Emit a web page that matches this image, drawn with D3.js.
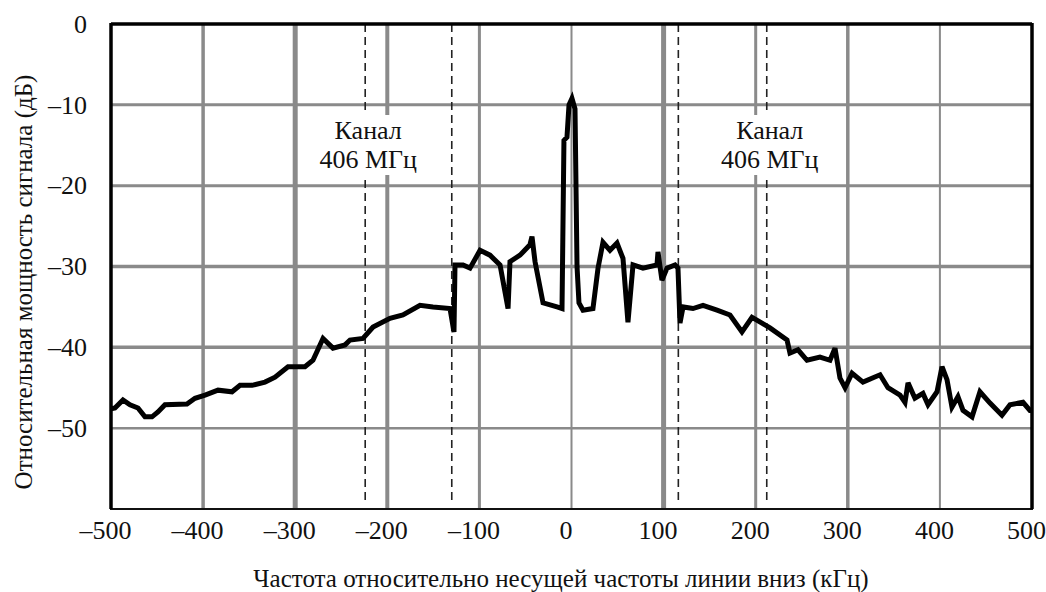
<!DOCTYPE html>
<html>
<head>
<meta charset="utf-8">
<script src="https://cdn.jsdelivr.net/npm/d3@7/dist/d3.min.js"></script>
<style>
  body { margin: 0; background: #fff; }
  text { font-family: "Liberation Serif", "Times New Roman", serif; fill: #111; }
</style>
</head>
<body>
<div id="chart"></div>
<script>
// frequency offset from downlink carrier (kHz) and relative power (dB)
const freq = [
  -500, -495.7, -487, -479.4, -470.7, -463.1, -455.5, -449, -441.4, -417.5,
  -408.8, -397.9, -383.8, -368.6, -359.9, -346.9, -332.8, -321.9, -307.8, -289.4,
  -280.7, -269.8, -259, -245.9, -240.5, -226.4, -215.5, -197.1, -183, -164.5,
  -150.4, -131.9, -127.6, -126.5, -117.8, -110.2, -99.3, -88.5, -77.6, -68.9,
  -66.8, -55.9, -45.1, -42.9, -39.6, -30.9, -15.7, -10.3, -8.2, -4.9,
  -2.7, 0.5, 3.8, 6.0, 8.1, 12.5, 23.3, 28.8, 34.2, 41.8,
  49.4, 55.9, 61.3, 66.8, 77.6, 92.8, 93.9, 98.2, 103.7, 112.4,
  115.6, 117.8, 121.1, 131.9, 142.8, 158, 172.1, 185.1, 196, 206.8,
  215.5, 234, 237.2, 245.9, 255.7, 269.8, 280.7, 286.1, 291.5, 297,
  304.6, 316.5, 335, 343.6, 356.7, 362.1, 365.4, 372.9, 381.6, 387.1,
  396.9, 402.3, 407.7, 413.1, 419.6, 425.1, 434.9, 443.5, 454.4, 467.4,
  476.1, 490.2, 497.8, 500
];
const level = [
  -47.6, -47.5, -46.5, -47.1, -47.5, -48.6, -48.6, -48.0, -47.1, -47.0,
  -46.3, -45.9, -45.3, -45.5, -44.7, -44.7, -44.3, -43.7, -42.4, -42.4,
  -41.6, -38.9, -40.1, -39.7, -39.1, -38.9, -37.5, -36.4, -36.0, -34.8,
  -35.0, -35.2, -38.1, -29.8, -29.8, -30.2, -28.0, -28.6, -29.8, -35.2,
  -29.4, -28.6, -27.3, -26.3, -29.4, -34.5, -35.0, -35.2, -14.4, -14.0,
  -10.0, -9.2, -10.5, -30.0, -34.5, -35.4, -35.2, -30.2, -27.0, -28.0,
  -27.1, -29.0, -36.9, -29.8, -30.2, -29.8, -28.2, -31.7, -30.2, -29.8,
  -30.2, -37.0, -35.0, -35.2, -34.8, -35.4, -36.0, -38.1, -36.3, -37.0,
  -37.6, -39.1, -40.7, -40.3, -41.6, -41.2, -41.6, -40.1, -43.8, -45.0,
  -43.2, -44.3, -43.4, -45.0, -45.9, -46.8, -44.4, -46.3, -45.7, -47.1,
  -45.5, -42.4, -44.0, -47.4, -46.1, -47.8, -48.6, -45.5, -46.9, -48.4,
  -47.1, -46.8, -47.8, -47.8
];

const xTickValues = [-500, -400, -300, -200, -100, 0, 100, 200, 300, 400, 500];
const yTickValues = [0, -10, -20, -30, -40, -50];
// channel boundaries (dashed lines), kHz
const channelEdges = [-224, -130, 116, 212];
const channelLabel = ["Канал", "406 МГц"];

const xTitle = "Частота относительно несущей частоты линии вниз (кГц)";
const yTitle = "Относительная мощность сигнала (дБ)";

// grid line widths (the scan has uneven rules)
const xGridWidth = { "-400": 3.5, "-300": 5, "-200": 4, "-100": 3, "0": 2, "100": 5, "200": 3, "300": 3.5, "400": 2 };
const yGridWidth = { "-10": 3, "-20": 3, "-30": 3.5, "-40": 3.5, "-50": 2.5 };

const W = 1046, H = 592;
const margin = { top: 24, right: 14, bottom: 83, left: 111 };
const width = W - margin.left - margin.right;
const height = H - margin.top - margin.bottom;

const svg = d3.select("#chart").append("svg")
    .attr("width", W)
    .attr("height", H);
svg.append("rect").attr("width", W).attr("height", H).attr("fill", "#fff");

const g = svg.append("g")
    .attr("transform", "translate(" + margin.left + "," + margin.top + ")");

const x = d3.scaleLinear().domain([-500, 500]).range([0, width]);
const y = d3.scaleLinear().domain([-60, 0]).range([height, 0]);

const dashFmt = d => d < 0 ? "\u2013" + Math.abs(d) : String(d);

// vertical grid
g.append("g").selectAll("line")
  .data(xTickValues.filter(d => xGridWidth[d] !== undefined))
  .join("line")
    .attr("x1", d => x(d)).attr("x2", d => x(d))
    .attr("y1", 0).attr("y2", height)
    .attr("stroke", "#8a8a8a")
    .attr("stroke-width", d => xGridWidth[d]);

// horizontal grid
g.append("g").selectAll("line")
  .data(yTickValues.filter(d => yGridWidth[d] !== undefined))
  .join("line")
    .attr("x1", 0).attr("x2", width)
    .attr("y1", d => y(d)).attr("y2", d => y(d))
    .attr("stroke", "#8a8a8a")
    .attr("stroke-width", d => yGridWidth[d]);

// dashed channel boundaries
g.append("g").selectAll("line")
  .data(channelEdges)
  .join("line")
    .attr("x1", d => x(d)).attr("x2", d => x(d))
    .attr("y1", 0).attr("y2", height - 4)
    .attr("stroke", "#222")
    .attr("stroke-width", 1.6)
    .attr("stroke-dasharray", "8,5");

// channel labels, white box behind
[channelEdges[0], channelEdges[3]].forEach(c => {
  const lab = g.append("g");
  const box = lab.append("rect").attr("fill", "#fff");
  const t = lab.append("text")
      .attr("text-anchor", "middle")
      .attr("font-size", "26px");
  channelLabel.forEach((s, i) => {
    t.append("tspan")
      .attr("x", x(c) + 3)
      .attr("y", 115 + i * 29)
      .text(s);
  });
  const bb = t.node().getBBox();
  box.attr("x", bb.x - 3).attr("y", bb.y - 1)
     .attr("width", bb.width + 6).attr("height", bb.height + 2);
});

// spectrum trace
const pts = freq.map((f, i) => [f, level[i]]);
g.append("path")
  .datum(pts)
  .attr("fill", "none")
  .attr("stroke", "#000")
  .attr("stroke-width", 5)
  .attr("stroke-linejoin", "miter")
  .attr("stroke-miterlimit", 3)
  .attr("d", d3.line().x(d => x(d[0])).y(d => y(d[1])));

// frame
g.append("rect")
  .attr("width", width).attr("height", height)
  .attr("fill", "none")
  .attr("stroke", "#111")
  .attr("stroke-width", 2);
g.append("line").attr("x1", 0).attr("x2", 0).attr("y1", -1).attr("y2", height)
  .attr("stroke", "#000").attr("stroke-width", 3.5);
g.append("line").attr("x1", width).attr("x2", width).attr("y1", -1).attr("y2", height)
  .attr("stroke", "#000").attr("stroke-width", 3.5);
g.append("line").attr("x1", 0).attr("x2", width).attr("y1", 0).attr("y2", 0)
  .attr("stroke", "#000").attr("stroke-width", 3.5);

// axes (labels only)
const xAxis = g.append("g")
    .attr("transform", "translate(0," + height + ")")
    .call(d3.axisBottom(x).tickValues(xTickValues).tickSize(0).tickPadding(12).tickFormat(dashFmt));
xAxis.select(".domain").remove();
xAxis.selectAll("text")
    .attr("font-size", "26px")
    .attr("fill", "#111")
    .attr("dx", "-6");

const yAxis = g.append("g")
    .call(d3.axisLeft(y).tickValues(yTickValues).tickSize(0).tickPadding(24).tickFormat(dashFmt));
yAxis.select(".domain").remove();
yAxis.selectAll("text")
    .attr("font-size", "26px")
    .attr("fill", "#111");

// axis titles
svg.append("text")
  .attr("text-anchor", "middle")
  .attr("font-size", "25px")
  .attr("x", 561)
  .attr("y", 587)
  .text(xTitle);

svg.append("text")
  .attr("text-anchor", "middle")
  .attr("font-size", "25px")
  .attr("transform", "translate(32,282) rotate(-90)")
  .text(yTitle);
</script>
</body>
</html>
